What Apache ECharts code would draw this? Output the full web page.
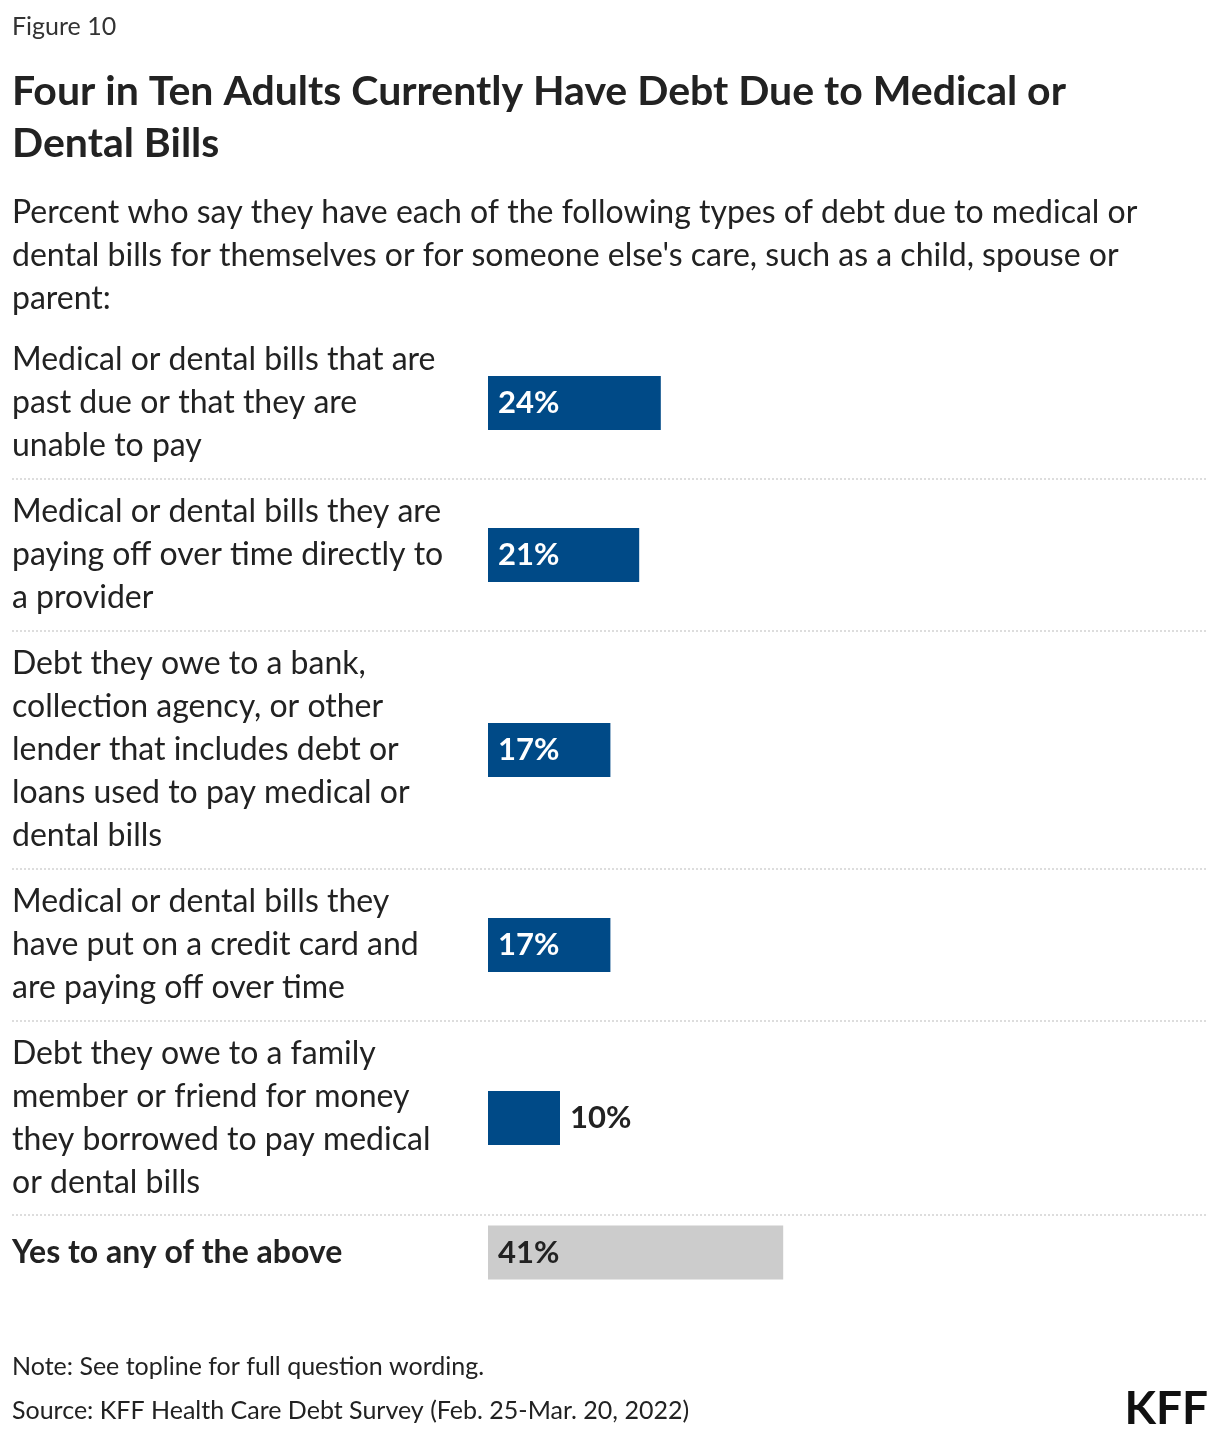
<!DOCTYPE html>
<html><head><meta charset="utf-8">
<script src="https://cdn.jsdelivr.net/npm/echarts@6/dist/echarts.min.js"></script>
<style>body{margin:0;background:#fff}#c{width:1220px;height:1440px}</style>
</head><body><div id="c"></div>
<script>
var categories = [
  'Medical or dental bills that are\npast due or that they are\nunable to pay',
  'Medical or dental bills they are\npaying off over time directly to\na provider',
  'Debt they owe to a bank,\ncollection agency, or other\nlender that includes debt or\nloans used to pay medical or\ndental bills',
  'Medical or dental bills they\nhave put on a credit card and\nare paying off over time',
  'Debt they owe to a family\nmember or friend for money\nthey borrowed to pay medical\nor dental bills',
  'Yes to any of the above'
];
var values = [24, 21, 17, 17, 10, 41];
var rowBounds = [327, 479, 631, 869, 1021, 1215, 1290];

var font = 'Lato, "Noto Sans", sans-serif';
var chart = echarts.init(document.getElementById('c'));
var grids = [], xAxes = [], yAxes = [], series = [], graphics = [];
categories.forEach(function (cat, i) {
  var last = i === categories.length - 1;
  grids.push({left: 488, width: 720, top: rowBounds[i], height: rowBounds[i + 1] - rowBounds[i]});
  xAxes.push({type: 'value', gridIndex: i, min: 0, max: 100, show: false});
  yAxes.push({
    type: 'category', gridIndex: i, data: [cat],
    axisLine: {show: false}, axisTick: {show: false},
    axisLabel: {align: 'left', margin: 476, fontFamily: font, fontSize: 32, lineHeight: 43,
      color: '#222', fontWeight: last ? 'bold' : 'normal'}
  });
  var outside = values[i] < 15;
  series.push({
    type: 'bar', xAxisIndex: i, yAxisIndex: i, barWidth: 54,
    data: [values[i]],
    itemStyle: {color: last ? '#cccccc' : '#004a87'},
    label: {show: true, position: outside ? 'right' : 'insideLeft', distance: 10,
      formatter: '{c}%', fontFamily: font, fontSize: 31, fontWeight: 'bold',
      color: (last || outside) ? '#222' : '#fff'},
    animation: false
  });
  if (i > 0) {
    graphics.push({type: 'line', shape: {x1: 12, y1: rowBounds[i], x2: 1208, y2: rowBounds[i]},
      style: {stroke: '#bbb', lineWidth: 1, lineDash: [2, 2]}});
  }
});
graphics.push(
  {type: 'text', left: 12, top: 14, style: {text: 'Figure 10', font: '25px ' + font, fill: '#333'}},
  {type: 'text', left: 12, top: 66, style: {text: 'Four in Ten Adults Currently Have Debt Due to Medical or\nDental Bills',
    font: 'bold 41px ' + font, fill: '#222', lineHeight: 52}},
  {type: 'text', left: 12, top: 191, style: {text: "Percent who say they have each of the following types of debt due to medical or\ndental bills for themselves or for someone else's care, such as a child, spouse or\nparent:",
    font: '32px ' + font, fill: '#222', lineHeight: 43}},
  {type: 'text', left: 12, top: 1354, style: {text: 'Note: See topline for full question wording.', font: '25px ' + font, fill: '#222'}},
  {type: 'text', left: 12, top: 1398, style: {text: 'Source: KFF Health Care Debt Survey (Feb. 25-Mar. 20, 2022)', font: '25px ' + font, fill: '#222'}},
  {type: 'text', right: 12, top: 1386, style: {text: 'KFF', font: 'bold 46px ' + font, fill: '#111'}}
);
chart.setOption({
  animation: false,
  grid: grids, xAxis: xAxes, yAxis: yAxes, series: series, graphic: graphics
});
</script></body></html>
